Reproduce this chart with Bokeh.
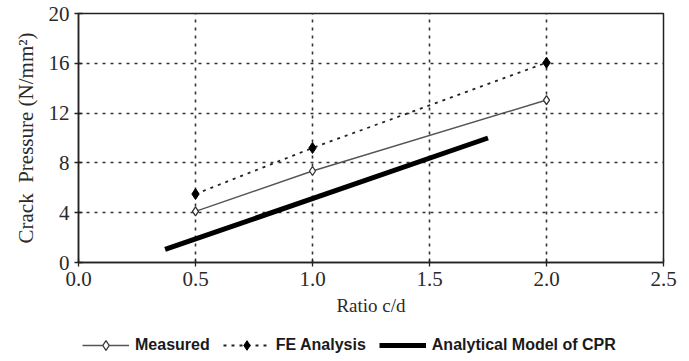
from bokeh.plotting import figure
from bokeh.layouts import column
from bokeh.models import Range1d, FixedTicker, NumeralTickFormatter, Legend, LegendItem
from bokeh.embed import file_html
from bokeh.resources import INLINE

# data
ratio = [0.5, 1.0, 2.0]
measured = [4.1, 7.35, 13.05]
fe_analysis = [5.5, 9.2, 16.05]
cpr_ratio = [0.37, 1.75]
cpr_pressure = [1.05, 10.0]
x_ticks = [0.0, 0.5, 1.0, 1.5, 2.0, 2.5]
y_ticks = [0, 4, 8, 12, 16, 20]
legend_labels = ["Measured", "FE Analysis", "Analytical Model of CPR"]

SERIF = "Liberation Serif"
LEG_FONT = "Liberation Sans"

p = figure(width=678, height=324, output_backend="svg", toolbar_location=None,
           x_range=Range1d(0, 2.5), y_range=Range1d(0, 20),
           min_border_left=78, min_border_top=13, min_border_right=15, min_border_bottom=62)
p.background_fill_color = "white"
p.border_fill_color = "white"
p.outline_line_color = "#222222"
p.outline_line_width = 1.5

for ax in (p.xaxis[0], p.yaxis[0]):
    ax.axis_line_color = "#222222"
    ax.axis_line_width = 1.5
    ax.major_tick_line_color = "#222222"
    ax.major_tick_line_width = 1.3
    ax.major_tick_in = 4
    ax.major_tick_out = 4
    ax.minor_tick_line_color = None
    ax.major_label_text_font = SERIF
    ax.major_label_text_font_size = "21px"
    ax.major_label_text_color = "#2a2a2a"
    ax.axis_label_text_font = SERIF
    ax.axis_label_text_font_style = "normal"
    ax.axis_label_text_color = "#2a2a2a"

p.xaxis.ticker = FixedTicker(ticks=x_ticks)
p.xaxis.formatter = NumeralTickFormatter(format="0.0")
p.yaxis.ticker = FixedTicker(ticks=y_ticks)
p.xaxis.axis_label = "Ratio c/d"
p.xaxis.axis_label_text_font_size = "19px"
p.xaxis.major_label_standoff = 5
p.xaxis.axis_label_standoff = 6
p.yaxis.axis_label = "Crack\u00a0 Pressure (N/mm²)"
p.yaxis.axis_label_text_font_size = "21px"
p.yaxis.major_label_standoff = 5
p.yaxis.axis_label_standoff = 8

p.xgrid.grid_line_color = "#333333"
p.ygrid.grid_line_color = "#333333"
p.xgrid.grid_line_dash = "3 5"
p.ygrid.grid_line_dash = "3 5"
p.xgrid.grid_line_width = 1.6
p.ygrid.grid_line_width = 1.6

# series styles
m_line_style = dict(line_color="#555555", line_width=1.4)
m_pt_style = dict(marker="diamond", size=9, fill_color="white", line_color="#333333", line_width=1.3)
f_line_style = dict(line_color="#222222", line_width=1.8, line_dash="3 5")
f_pt_style = dict(marker="diamond", size=11, fill_color="black", line_color="black")
c_line_style = dict(line_color="black", line_width=5)

p.line(ratio, measured, **m_line_style)
p.scatter(ratio, measured, **m_pt_style)
p.line(ratio, fe_analysis, **f_line_style)
p.scatter(ratio, fe_analysis, **f_pt_style)
p.line(cpr_ratio, cpr_pressure, **c_line_style)

# legend strip below the chart: same series drawn out of view, used only as legend proxies
lg = figure(width=678, height=35, output_backend="svg", toolbar_location=None,
            x_range=Range1d(0, 2.5), y_range=Range1d(-200, -199),
            x_axis_type=None, y_axis_type=None, min_border=0)
lg.outline_line_color = None
lg.grid.visible = False
lg.border_fill_color = "white"
r1 = lg.line(ratio, measured, **m_line_style)
r2 = lg.scatter(ratio, measured, **m_pt_style)
r3 = lg.line(ratio, fe_analysis, **f_line_style)
r4 = lg.scatter(ratio, fe_analysis, **f_pt_style)
r5 = lg.line(cpr_ratio, cpr_pressure, **c_line_style)

legend = Legend(items=[LegendItem(label=legend_labels[0], renderers=[r1, r2]),
                       LegendItem(label=legend_labels[1], renderers=[r3, r4]),
                       LegendItem(label=legend_labels[2], renderers=[r5])],
                location=(4, 2), orientation="horizontal",
                glyph_width=47, glyph_height=24, label_height=24,
                label_standoff=6, padding=0, margin=0, spacing=13,
                border_line_color=None, background_fill_alpha=0,
                label_text_font=LEG_FONT, label_text_font_style="bold",
                label_text_font_size="16px", label_text_color="#1a1a1a")
lg.add_layout(legend, "center")

layout = column(p, lg, spacing=0)
open("out.html", "w").write(file_html(layout, INLINE))
